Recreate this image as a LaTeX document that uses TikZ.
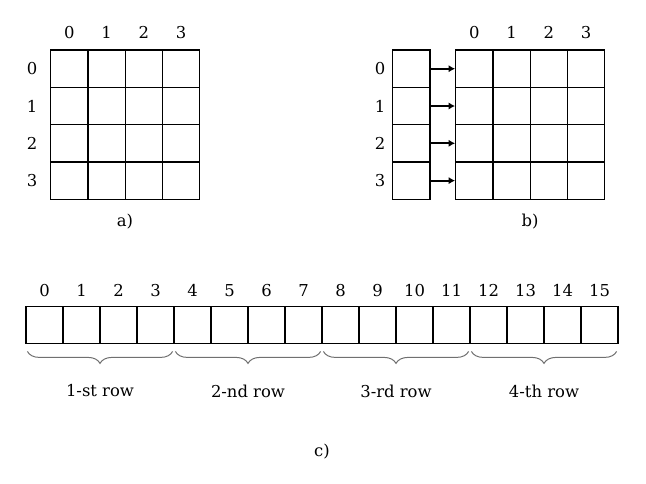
\documentclass[tikz,border=0pt]{standalone}
\usepackage{fontspec}
\setmainfont{DejaVu Serif}
\usepackage{tikz}
\usetikzlibrary{positioning,calc,arrows.meta,decorations.pathreplacing}
\definecolor{bracec}{HTML}{707070}
\tikzset{
  cell/.style={draw, minimum size=18.65pt, inner sep=0pt, line width=0.6pt},
  wide/.style={cell, minimum width=18.5pt, minimum height=18.3pt},
  idx/.style={inner sep=0pt, text height=6pt, text depth=0pt},
  ptr/.style={line width=0.9pt, -{Latex[length=3.2pt,width=3.6pt]}},
  brc/.style={bracec, line width=0.5pt, decorate, decoration={brace,amplitude=6pt,mirror}}
}

\begin{document}
\begin{tikzpicture}[x=0.5pt, y=-0.5pt, font=\fontsize{8.2}{10}\selectfont]
  \useasboundingbox (0,0) rectangle (646,483);
  \foreach \j in {0,...,3}{
     \node[idx] (ac\j) at (69.3+37.3*\j,32) {\j};
     \node[idx] (bc\j) at (474.3+37.3*\j,32) {\j};}
  \foreach \i in {0,...,3}{
     \node[idx] (ar\i) at (32,68.7+37.3*\i) {\i};
     \node[idx] (br\i) at (380,68.7+37.3*\i) {\i};
     \node[cell] (bl-\i) at (411.3,68.7+37.3*\i) {};
     \foreach \j in {0,...,3}{
        \node[cell] (a-\i-\j) at (69.3+37.3*\j,68.7+37.3*\i) {};
        \node[cell] (b-\i-\j) at (474.3+37.3*\j,68.7+37.3*\i) {};}
     \draw[ptr] (bl-\i.east) -- (b-\i-0.west);}
  \node (alab) at (125,222) {a)};
  \node (blab) at (530,222) {b)};
  \foreach \k in {0,...,15}{
     \node[wide] (c-\k) at (44.5+37*\k,325) {};
     \node[idx] (cc\k) at (44.5+37*\k,290) {\k};}
  \foreach \g/\a/\b/\t in {0/0/3/1-st row,1/4/7/2-nd row,2/8/11/3-rd row,3/12/15/4-th row}
     \draw[brc] ($(c-\a.south west)+(2,7.5)$) -- ($(c-\b.south east)+(-2,7.5)$)
        node[midway,below=13pt,text=black] (g\g) {\t};
  \node (clab) at (322,452) {c)};
\end{tikzpicture}
\end{document}
